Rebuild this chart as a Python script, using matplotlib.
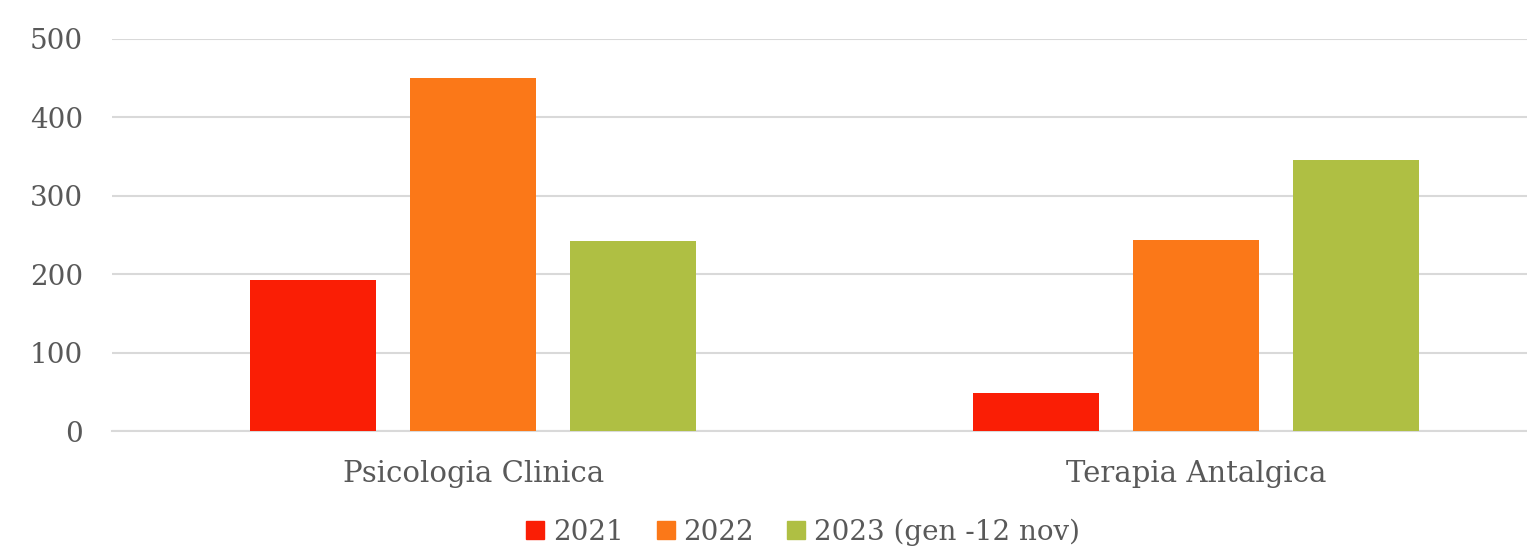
import numpy as np
import matplotlib.pyplot as plt
from matplotlib.patches import Patch

categories = ["Psicologia Clinica", "Terapia Antalgica"]
series = ["2021", "2022", "2023 (gen -12 nov)"]
values_2021 = [193, 49]
values_2022 = [450, 244]
values_2023 = [242, 345]
colors = ["#FA1E05", "#FB7818", "#AFBF43"]

plt.rcParams['font.family'] = ['DejaVu Serif']
text_color = "#595959"

fig = plt.figure(figsize=(15.27, 5.48), dpi=100)
ax = fig.add_axes([112 / 1527, 1 - 431.3 / 548, 1 - 112 / 1527, (431.3 - 38.7) / 548])

x = np.arange(len(categories))
width = 126 / 723
step = 160 / 723
for i, vals in enumerate([values_2021, values_2022, values_2023]):
    ax.bar(x + (i - 1) * step, vals, width, color=colors[i], zorder=3)

ax.set_ylim(0, 500)
ax.set_xlim(-0.5, (1527 - 473) / 723)
ax.set_yticks(range(0, 501, 100))
ax.set_xticks(x)
ax.set_xticklabels(categories)
ax.grid(axis="y", color="#D9D9D9", linewidth=1.5, zorder=0)
for s in ["top", "right", "left"]:
    ax.spines[s].set_visible(False)
ax.spines["bottom"].set_color("#D9D9D9")
ax.spines["bottom"].set_linewidth(1.5)
ax.tick_params(axis="both", length=0, colors=text_color)
ax.tick_params(axis="y", labelsize=20, pad=21)
ax.tick_params(axis="x", labelsize=21, pad=21)

handles = [Patch(color=c) for c in colors]
fig.legend(handles, series, loc="center", bbox_to_anchor=(803 / 1527, 1 - 532 / 548),
           ncol=3, frameon=False, fontsize=20, labelcolor=text_color,
           handlelength=0.65, handleheight=0.65, handletextpad=0.3, columnspacing=1.2)

fig.savefig("out.png", dpi=100)
